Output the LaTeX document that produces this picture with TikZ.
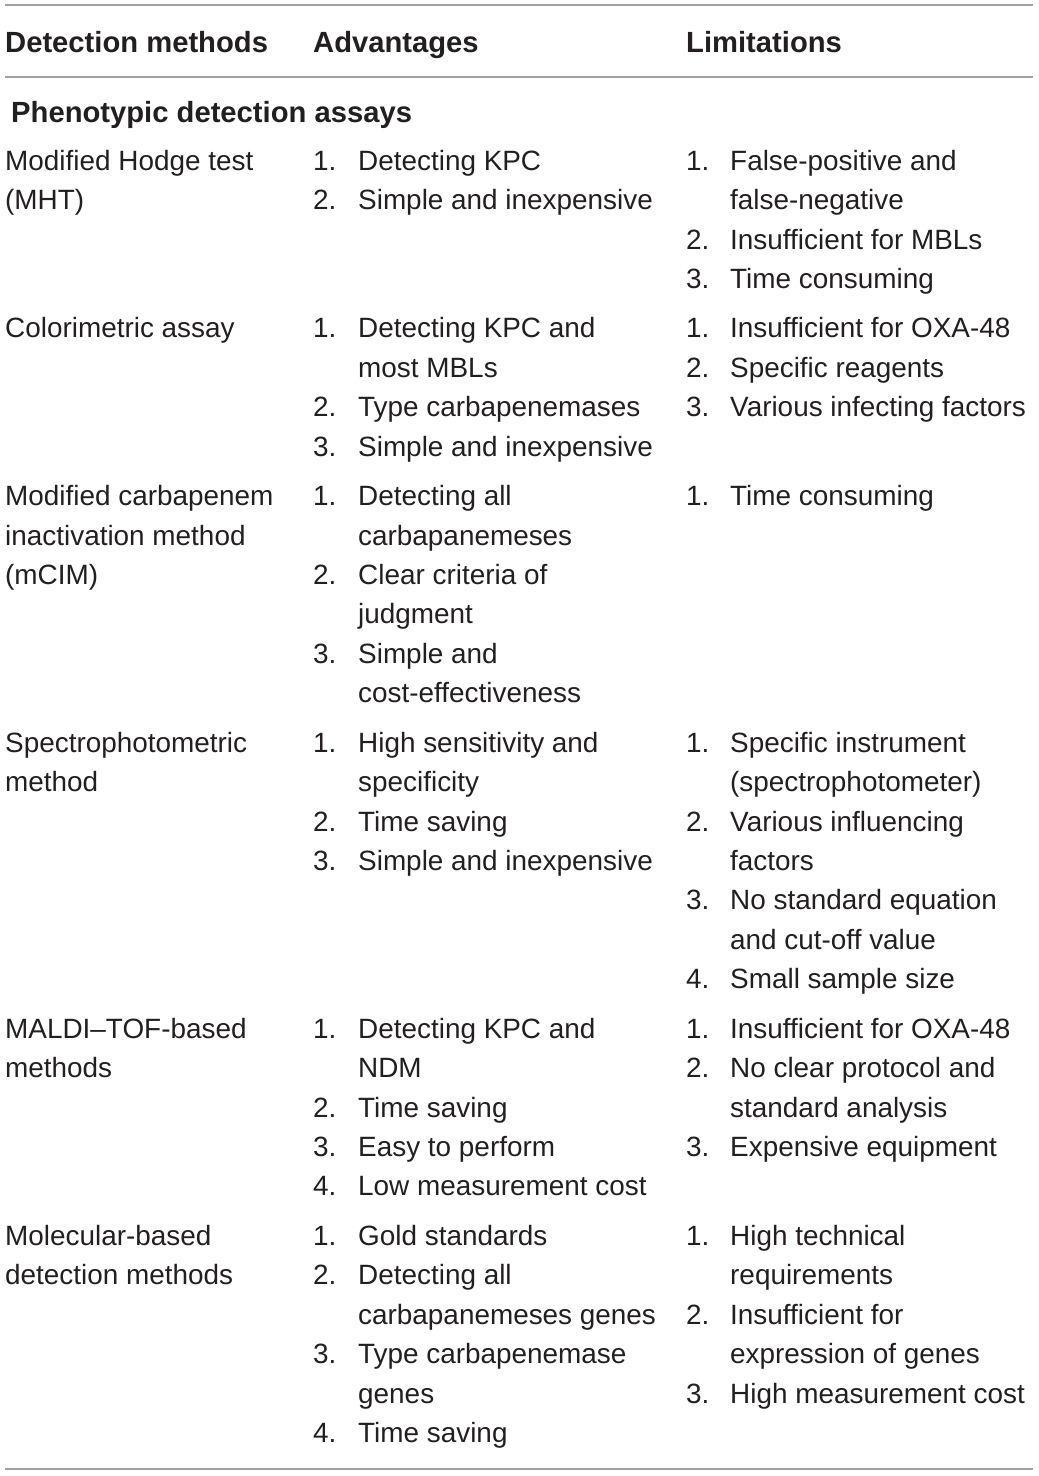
\documentclass[tikz,border=0pt]{standalone}
\usepackage{fontspec}
\setmainfont{Liberation Sans}
\definecolor{txtc}{HTML}{231F20}
\definecolor{rulec}{HTML}{A0A0A0}
\begin{document}
\begin{tikzpicture}[x=1pt,y=-1pt,
  txt/.style={anchor=base west,inner sep=0pt,text=txtc,font=\fontsize{27.9}{32}\selectfont},
  hdr/.style={anchor=base west,inner sep=0pt,text=txtc,font=\fontsize{29.2}{34}\selectfont\bfseries},
  rulel/.style={draw=rulec,line width=1.6pt}]
\useasboundingbox (0,0) rectangle (1039,1476);
% rules
\coordinate (t1) at (5,5);   \coordinate (t2) at (1033,5);
\coordinate (h1) at (5,77);  \coordinate (h2) at (1033,77);
\coordinate (b1) at (5,1469);\coordinate (b2) at (1033,1469);
\draw[rulel] (t1) -- (t2);
\draw[rulel] (h1) -- (h2);
\draw[rulel] (b1) -- (b2);
% header
\node[hdr] (hA) at (5,52) {Detection methods};
\node[hdr] (hB) at (313,52) {Advantages};
\node[hdr] (hC) at (686,52) {Limitations};
\node[hdr] (sec) at (11,122) {Phenotypic detection assays};
% Row 1 MHT
\node[txt] (m1a) at (5,170) {Modified Hodge test};
\node[txt] (m1b) at (5,209) {(MHT)};
\node[txt] (a1n1) at (313,170) {1.};\node[txt] (a1t1) at (358,170) {Detecting KPC};
\node[txt] (a1n2) at (313,209) {2.};\node[txt] (a1t2) at (358,209) {Simple and inexpensive};
\node[txt] (l1n1) at (686,170) {1.};\node[txt] (l1t1) at (730,170) {False-positive and};
\node[txt] (l1t1b) at (730,209) {false-negative};
\node[txt] (l1n2) at (686,249) {2.};\node[txt] (l1t2) at (730,249) {Insufficient for MBLs};
\node[txt] (l1n3) at (686,288) {3.};\node[txt] (l1t3) at (730,288) {Time consuming};
% Row 2 Colorimetric
\node[txt] (m2a) at (5,337) {Colorimetric assay};
\node[txt] (a2n1) at (313,337) {1.};\node[txt] (a2t1) at (358,337) {Detecting KPC and};
\node[txt] (a2t1b) at (358,377) {most MBLs};
\node[txt] (a2n2) at (313,416) {2.};\node[txt] (a2t2) at (358,416) {Type carbapenemases};
\node[txt] (a2n3) at (313,456) {3.};\node[txt] (a2t3) at (358,456) {Simple and inexpensive};
\node[txt] (l2n1) at (686,337) {1.};\node[txt] (l2t1) at (730,337) {Insufficient for OXA-48};
\node[txt] (l2n2) at (686,377) {2.};\node[txt] (l2t2) at (730,377) {Specific reagents};
\node[txt] (l2n3) at (686,416) {3.};\node[txt] (l2t3) at (730,416) {Various infecting factors};
% Row 3 mCIM
\node[txt] (m3a) at (5,505) {Modified carbapenem};
\node[txt] (m3b) at (5,545) {inactivation method};
\node[txt] (m3c) at (5,584) {(mCIM)};
\node[txt] (a3n1) at (313,505) {1.};\node[txt] (a3t1) at (358,505) {Detecting all};
\node[txt] (a3t1b) at (358,545) {carbapanemeses};
\node[txt] (a3n2) at (313,584) {2.};\node[txt] (a3t2) at (358,584) {Clear criteria of};
\node[txt] (a3t2b) at (358,623) {judgment};
\node[txt] (a3n3) at (313,663) {3.};\node[txt] (a3t3) at (358,663) {Simple and};
\node[txt] (a3t3b) at (358,702) {cost-effectiveness};
\node[txt] (l3n1) at (686,505) {1.};\node[txt] (l3t1) at (730,505) {Time consuming};
% Row 4 Spectrophotometric
\node[txt] (m4a) at (5,752) {Spectrophotometric};
\node[txt] (m4b) at (5,791) {method};
\node[txt] (a4n1) at (313,752) {1.};\node[txt] (a4t1) at (358,752) {High sensitivity and};
\node[txt] (a4t1b) at (358,791) {specificity};
\node[txt] (a4n2) at (313,831) {2.};\node[txt] (a4t2) at (358,831) {Time saving};
\node[txt] (a4n3) at (313,870) {3.};\node[txt] (a4t3) at (358,870) {Simple and inexpensive};
\node[txt] (l4n1) at (686,752) {1.};\node[txt] (l4t1) at (730,752) {Specific instrument};
\node[txt] (l4t1b) at (730,791) {(spectrophotometer)};
\node[txt] (l4n2) at (686,831) {2.};\node[txt] (l4t2) at (730,831) {Various influencing};
\node[txt] (l4t2b) at (730,870) {factors};
\node[txt] (l4n3) at (686,909) {3.};\node[txt] (l4t3) at (730,909) {No standard equation};
\node[txt] (l4t3b) at (730,949) {and cut-off value};
\node[txt] (l4n4) at (686,988) {4.};\node[txt] (l4t4) at (730,988) {Small sample size};
% Row 5 MALDI
\node[txt] (m5a) at (5,1038) {MALDI--TOF-based};
\node[txt] (m5b) at (5,1077) {methods};
\node[txt] (a5n1) at (313,1038) {1.};\node[txt] (a5t1) at (358,1038) {Detecting KPC and};
\node[txt] (a5t1b) at (358,1077) {NDM};
\node[txt] (a5n2) at (313,1117) {2.};\node[txt] (a5t2) at (358,1117) {Time saving};
\node[txt] (a5n3) at (313,1156) {3.};\node[txt] (a5t3) at (358,1156) {Easy to perform};
\node[txt] (a5n4) at (313,1195) {4.};\node[txt] (a5t4) at (358,1195) {Low measurement cost};
\node[txt] (l5n1) at (686,1038) {1.};\node[txt] (l5t1) at (730,1038) {Insufficient for OXA-48};
\node[txt] (l5n2) at (686,1077) {2.};\node[txt] (l5t2) at (730,1077) {No clear protocol and};
\node[txt] (l5t2b) at (730,1117) {standard analysis};
\node[txt] (l5n3) at (686,1156) {3.};\node[txt] (l5t3) at (730,1156) {Expensive equipment};
% Row 6 Molecular
\node[txt] (m6a) at (5,1245) {Molecular-based};
\node[txt] (m6b) at (5,1284) {detection methods};
\node[txt] (a6n1) at (313,1245) {1.};\node[txt] (a6t1) at (358,1245) {Gold standards};
\node[txt] (a6n2) at (313,1284) {2.};\node[txt] (a6t2) at (358,1284) {Detecting all};
\node[txt] (a6t2b) at (358,1324) {carbapanemeses genes};
\node[txt] (a6n3) at (313,1363) {3.};\node[txt] (a6t3) at (358,1363) {Type carbapenemase};
\node[txt] (a6t3b) at (358,1403) {genes};
\node[txt] (a6n4) at (313,1442) {4.};\node[txt] (a6t4) at (358,1442) {Time saving};
\node[txt] (l6n1) at (686,1245) {1.};\node[txt] (l6t1) at (730,1245) {High technical};
\node[txt] (l6t1b) at (730,1284) {requirements};
\node[txt] (l6n2) at (686,1324) {2.};\node[txt] (l6t2) at (730,1324) {Insufficient for};
\node[txt] (l6t2b) at (730,1363) {expression of genes};
\node[txt] (l6n3) at (686,1403) {3.};\node[txt] (l6t3) at (730,1403) {High measurement cost};
\end{tikzpicture}
\end{document}
